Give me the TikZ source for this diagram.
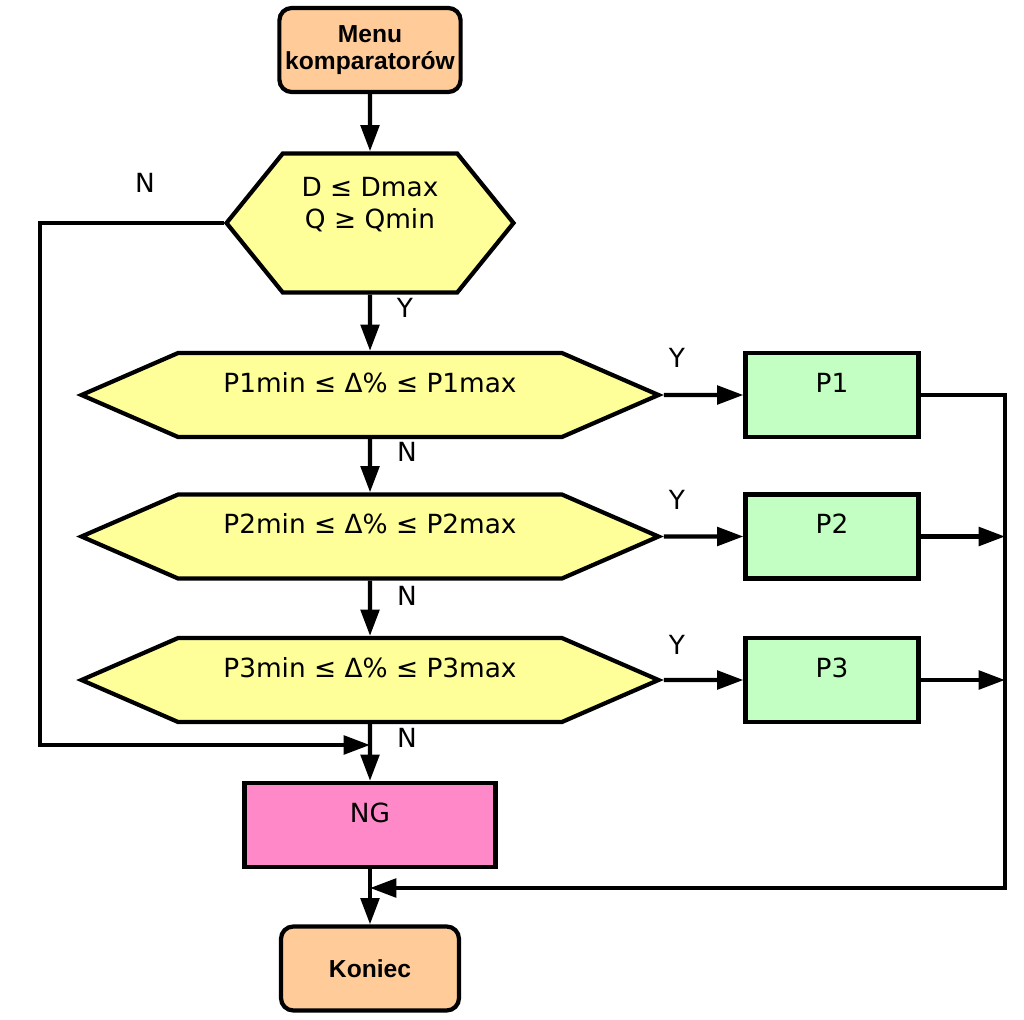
\documentclass[tikz,border=0pt]{standalone}
\usepackage{fontspec}
\setmainfont{DejaVu Sans}
\newfontfamily\arialfont{Liberation Sans}
\usepackage{tikz}
\usetikzlibrary{arrows.meta,shapes.symbols}
\definecolor{fcpeach}{RGB}{255, 204, 153}
\definecolor{fcyellow}{RGB}{255, 255, 153}
\definecolor{fcgreen}{RGB}{195, 255, 195}
\definecolor{fcpink}{RGB}{255, 136, 200}

\begin{document}
\begin{tikzpicture}[
  line width=2.4pt,
  arr/.style={-{Triangle[length=15pt,width=10.5pt]}},
  terminal/.style={draw, rounded corners=7pt, fill=fcpeach, align=center,
    font=\arialfont\bfseries\fontsize{14}{15.5}\selectfont,
    minimum width=3.56cm, minimum height=1.68cm},
  decision/.style={draw, shape=signal, signal to=east and west, fill=fcyellow,
    font=\fontsize{15}{18.5}\selectfont, minimum height=1.68cm,
    text height=0.4cm, text depth=0.52cm},
  process/.style={draw, fill=fcgreen, font=\fontsize{15}{18.5}\selectfont,
    minimum width=3.46cm, minimum height=1.68cm,
    text height=0.4cm, text depth=0.52cm},
  lbl/.style={font=\fontsize{15}{18}\selectfont}
]
\useasboundingbox (0,0) rectangle (20.48,-20.40);

% Start and first test
\node[terminal] (menu) at (7.40,-1.00) {Menu\\komparatorów};
\node[decision, signal pointer angle=102, minimum width=5.74cm, minimum height=2.78cm,
  align=center, text height=, text depth=] (test) at (7.40,-4.46)
  {D ≤ Dmax\\Q ≥ Qmin\\[0.15cm]{}};

% Range tests
\node[decision, signal pointer angle=47, minimum width=11.54cm] (rng1) at (7.40,-7.90) {P1min ≤ Δ\% ≤ P1max};
\node[decision, signal pointer angle=47, minimum width=11.54cm] (rng2) at (7.40,-10.73) {P2min ≤ Δ\% ≤ P2max};
\node[decision, signal pointer angle=47, minimum width=11.54cm] (rng3) at (7.40,-13.60) {P3min ≤ Δ\% ≤ P3max};

% Results
\node[process] (p1) at (16.64,-7.90) {P1};
\node[process] (p2) at (16.64,-10.73) {P2};
\node[process] (p3) at (16.64,-13.60) {P3};
\node[process, fill=fcpink, minimum width=5.02cm] (ng) at (7.40,-16.50) {NG};
\node[terminal] (koniec) at (7.40,-19.37) {Koniec};

\coordinate (lft) at (0.80,-14.90);
\coordinate (joinN) at (7.40,-14.90);
\coordinate (rgt) at (20.10,-17.76);
\coordinate (joinY) at (7.40,-17.76);

% Main flow
\draw[arr] (menu) -- (test);
\draw[arr] (test) -- (rng1);
\draw[arr] (rng1) -- (rng2);
\draw[arr] (rng2) -- (rng3);
\draw[arr] (rng3) -- (ng);
\draw[arr] (ng) -- (koniec);

% Branches
\draw[arr] (rng1) -- (p1);
\draw[arr] (rng2) -- (p2);
\draw[arr] (rng3) -- (p3);
\draw[arr] (test.west) -| (lft) -- (joinN);
\draw[arr] (p1.east) -| (rgt) -- (joinY);
\draw[arr] (p2.east) -- (p2.east -| rgt);
\draw[arr] (p3.east) -- (p3.east -| rgt);

% Labels
\node[lbl] (n0) at (2.90,-3.66) {N};
\node[lbl] (y0) at (8.10,-6.16) {Y};
\node[lbl] (y1) at (13.54,-7.16) {Y};
\node[lbl] (n1) at (8.14,-9.04) {N};
\node[lbl] (y2) at (13.54,-10.00) {Y};
\node[lbl] (n2) at (8.14,-11.92) {N};
\node[lbl] (y3) at (13.54,-12.90) {Y};
\node[lbl] (n3) at (8.14,-14.76) {N};
\end{tikzpicture}
\end{document}
